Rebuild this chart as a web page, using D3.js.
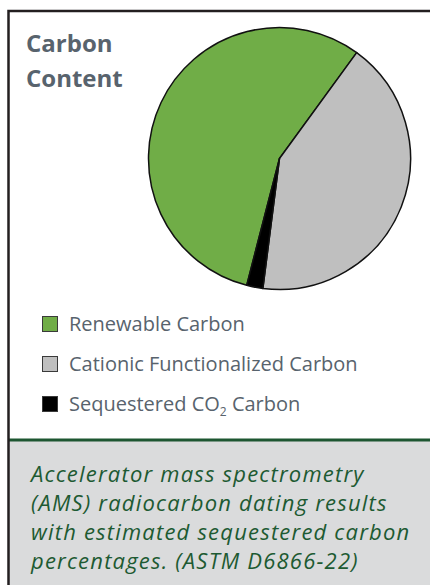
<!DOCTYPE html>
<html>
<head>
<meta charset="utf-8">
<script src="https://cdn.jsdelivr.net/npm/d3@7"></script>
<style>
  html, body { margin: 0; padding: 0; background: #fff; }
  svg { display: block; }
</style>
</head>
<body>
<div id="chart"></div>
<script>
// chart data
const categories = ["Renewable Carbon", "Cationic Functionalized Carbon", "Sequestered CO2 Carbon"];
const percentages = [56, 42, 2];
const sliceColors = ["#70ad47", "#bfbfbf", "#000000"];
const titleLines = ["Carbon", "Content"];
const captionLines = [
  "Accelerator mass spectrometry",
  "(AMS) radiocarbon dating results",
  "with estimated sequestered carbon",
  "percentages. (ASTM D6866-22)"
];

const width = 430, height = 585;

const svg = d3.select("#chart").append("svg")
  .attr("width", width)
  .attr("height", height);

// caption panel
svg.append("rect")
  .attr("x", 8).attr("y", 441)
  .attr("width", width - 8).attr("height", height - 441)
  .attr("fill", "#dadbdc");

svg.append("line")
  .attr("x1", 8).attr("x2", width)
  .attr("y1", 440).attr("y2", 440)
  .attr("stroke", "#1d5631")
  .attr("stroke-width", 3);

// frame: top and left edges
svg.append("path")
  .attr("d", `M8.5,${height} V11 H${width}`)
  .attr("fill", "none")
  .attr("stroke", "#231f20")
  .attr("stroke-width", 2.5);

// title
svg.append("text")
  .attr("x", 26)
  .attr("y", 52)
  .attr("fill", "#58636d")
  .style("font-family", "'Open Sans', sans-serif")
  .style("font-weight", 700)
  .style("font-size", "24px")
  .selectAll("tspan")
  .data(titleLines)
  .join("tspan")
  .attr("x", 26)
  .attr("dy", (d, i) => i === 0 ? 0 : 35)
  .text(d => d);

// pie
const cx = 279.5, cy = 158.5, r = 131;
const pie = d3.pie()
  .sort(null)
  .startAngle(194.5 * Math.PI / 180)
  .endAngle((194.5 + 360) * Math.PI / 180)
  .value(d => d);

const arc = d3.arc().innerRadius(0).outerRadius(r);

const pieG = svg.append("g").attr("transform", `translate(${cx},${cy})`);

pieG.selectAll("path")
  .data(pie(percentages))
  .join("path")
  .attr("d", arc)
  .attr("fill", (d, i) => sliceColors[i])
  .attr("stroke", "#111")
  .attr("stroke-width", 1.5)
  .attr("stroke-linejoin", "round");

// legend
const legend = svg.append("g")
  .style("font-family", "'Open Sans', sans-serif")
  .style("font-size", "20px");

const rows = legend.selectAll("g")
  .data(categories)
  .join("g")
  .attr("transform", (d, i) => `translate(42,${316 + i * 40})`);

rows.append("rect")
  .attr("x", 0.5).attr("y", 0.5)
  .attr("width", 15).attr("height", 15)
  .attr("fill", (d, i) => sliceColors[i])
  .attr("stroke", "#3a3a3a")
  .attr("stroke-width", 1);

rows.append("text")
  .attr("x", 27)
  .attr("y", 15)
  .attr("fill", "#58636d")
  .each(function (d) {
    const t = d3.select(this);
    if (d.includes("CO2")) {
      const parts = d.split("CO2");
      t.append("tspan").text(parts[0] + "CO");
      t.append("tspan").attr("dy", 5).style("font-size", "12px").text("2");
      t.append("tspan").attr("dy", -5).text(parts[1]);
    } else {
      t.text(d);
    }
  });

// caption
svg.append("text")
  .attr("fill", "#1d5a32")
  .style("font-family", "'Open Sans', sans-serif")
  .style("font-style", "italic")
  .style("font-size", "22px")
  .style("letter-spacing", "1.2px")
  .selectAll("tspan")
  .data(captionLines)
  .join("tspan")
  .attr("x", 31)
  .attr("y", (d, i) => 482 + i * 29)
  .text(d => d);
</script>
</body>
</html>
